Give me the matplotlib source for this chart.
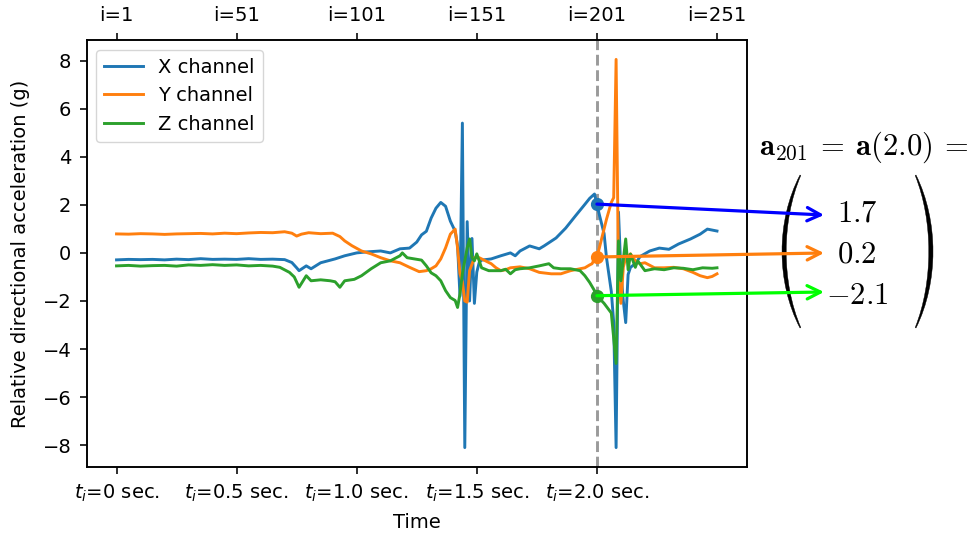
import matplotlib
matplotlib.use("Agg")
import matplotlib.pyplot as plt
from matplotlib.patches import ConnectionPatch, PathPatch
from matplotlib.path import Path

# --- data: time (s) and relative acceleration (g) ---
t_x = [0.00, 0.05, 0.10, 0.15, 0.20, 0.25, 0.30, 0.35, 0.40, 0.45,
       0.50, 0.55, 0.60, 0.65, 0.70, 0.73, 0.75, 0.76, 0.79, 0.81,
       0.85, 0.91, 0.95, 1.00, 1.04, 1.10, 1.14, 1.18, 1.22, 1.25,
       1.27, 1.29, 1.31, 1.33, 1.35, 1.37, 1.39, 1.41, 1.42, 1.43,
       1.44, 1.45, 1.46, 1.47, 1.48, 1.49, 1.50, 1.51, 1.52, 1.56,
       1.60, 1.64, 1.66, 1.68, 1.72, 1.76, 1.78, 1.83, 1.87, 1.91,
       1.95, 1.97, 1.99, 2.00, 2.01, 2.03, 2.04, 2.06, 2.07, 2.08,
       2.09, 2.10, 2.11, 2.12, 2.13, 2.14, 2.16, 2.18, 2.22, 2.26,
       2.30, 2.34, 2.39, 2.43, 2.46, 2.48, 2.50]
acc_x = [-0.29, -0.27, -0.28, -0.27, -0.29, -0.26, -0.28, -0.24, -0.27, -0.26,
         -0.27, -0.24, -0.27, -0.26, -0.28, -0.40, -0.62, -0.74, -0.54, -0.66,
         -0.41, -0.25, -0.12, 0.00, 0.04, 0.08, 0.00, 0.17, 0.20, 0.45,
         0.75, 0.90, 1.45, 1.86, 2.10, 1.94, 1.32, 0.90, 0.30, -1.80,
         5.40, -8.10, 1.30, -2.00, 0.60, -2.10, -0.80, -0.40, -0.30, -0.25,
         -0.12, 0.00, -0.12, 0.08, 0.29, 0.17, 0.29, 0.62, 1.03, 1.53,
         2.02, 2.27, 2.45, 2.03, 1.60, 0.80, -0.20, -1.60, -2.90, -8.10,
         1.70, -0.80, -2.00, -2.90, -0.90, -0.60, -0.45, -0.15, 0.08, 0.20,
         0.15, 0.37, 0.58, 0.78, 0.99, 0.95, 0.91]

t_y = [0.00, 0.05, 0.10, 0.15, 0.20, 0.25, 0.30, 0.35, 0.40, 0.45,
       0.50, 0.55, 0.60, 0.65, 0.70, 0.73, 0.75, 0.77, 0.80, 0.85,
       0.90, 0.93, 0.95, 0.98, 1.02, 1.06, 1.10, 1.14, 1.18, 1.22,
       1.26, 1.29, 1.31, 1.33, 1.35, 1.37, 1.39, 1.41, 1.42, 1.43,
       1.44, 1.45, 1.46, 1.47, 1.49, 1.51, 1.53, 1.56, 1.58, 1.60,
       1.62, 1.64, 1.68, 1.72, 1.76, 1.81, 1.85, 1.89, 1.93, 1.95,
       1.97, 1.98, 1.99, 2.00, 2.01, 2.03, 2.04, 2.06, 2.07, 2.08,
       2.09, 2.10, 2.11, 2.12, 2.14, 2.16, 2.18, 2.20, 2.24, 2.28,
       2.32, 2.36, 2.40, 2.43, 2.46, 2.48, 2.50]
acc_y = [0.79, 0.78, 0.80, 0.79, 0.77, 0.79, 0.80, 0.81, 0.79, 0.82,
         0.80, 0.83, 0.85, 0.84, 0.88, 0.82, 0.70, 0.78, 0.84, 0.80,
         0.82, 0.68, 0.50, 0.30, 0.08, -0.04, -0.20, -0.33, -0.41, -0.60,
         -0.78, -0.74, -0.66, -0.54, -0.25, 0.21, 0.78, 0.99, 0.20, -0.87,
         -1.20, -2.00, -2.05, -0.74, -0.20, -0.20, -0.30, -0.45, -0.62, -0.74,
         -0.70, -0.62, -0.58, -0.66, -0.81, -0.87, -0.87, -0.74, -0.66, -0.62,
         -0.50, -0.45, -0.25, -0.17, 0.20, 1.00, 1.40, 2.10, 2.30, 8.05,
         -1.00, -2.10, -0.60, -0.20, -0.04, -0.33, -0.45, -0.41, -0.62, -0.62,
         -0.60, -0.66, -0.81, -0.95, -1.03, -0.98, -0.87]

t_z = [0.00, 0.05, 0.10, 0.15, 0.20, 0.25, 0.30, 0.35, 0.40, 0.45,
       0.50, 0.55, 0.60, 0.65, 0.68, 0.72, 0.74, 0.76, 0.79, 0.81,
       0.85, 0.89, 0.91, 0.93, 0.95, 0.99, 1.02, 1.06, 1.10, 1.14,
       1.18, 1.19, 1.21, 1.24, 1.27, 1.29, 1.31, 1.33, 1.35, 1.37,
       1.39, 1.41, 1.42, 1.43, 1.44, 1.46, 1.47, 1.48, 1.49, 1.50,
       1.52, 1.55, 1.58, 1.60, 1.62, 1.64, 1.66, 1.68, 1.72, 1.76,
       1.80, 1.82, 1.85, 1.89, 1.93, 1.95, 1.97, 1.99, 2.00, 2.03,
       2.06, 2.08, 2.09, 2.10, 2.12, 2.13, 2.14, 2.16, 2.17, 2.20,
       2.24, 2.28, 2.32, 2.36, 2.40, 2.44, 2.48, 2.50]
acc_z = [-0.54, -0.52, -0.55, -0.53, -0.52, -0.55, -0.50, -0.52, -0.49, -0.52,
         -0.50, -0.54, -0.52, -0.55, -0.60, -0.81, -1.00, -1.43, -0.95, -1.16,
         -1.12, -1.16, -1.20, -1.43, -1.16, -1.10, -0.95, -0.66, -0.41, -0.33,
         -0.12, 0.00, -0.20, -0.25, -0.30, -0.54, -0.83, -0.95, -1.16, -1.57,
         -1.86, -1.98, -2.27, -1.70, -0.87, 0.21, 0.58, -0.20, -0.33, -0.04,
         -0.62, -0.74, -0.74, -0.74, -0.68, -0.87, -0.70, -0.66, -0.62, -0.54,
         -0.45, -0.62, -0.66, -0.66, -0.74, -0.95, -1.23, -1.57, -1.78, -2.10,
         -2.50, -4.60, 0.50, -1.16, 0.58, -0.70, -0.05, -0.60, -0.33, -0.74,
         -0.66, -0.70, -0.62, -0.64, -0.70, -0.62, -0.64, -0.62]

channel_names = ["X channel", "Y channel", "Z channel"]
t_sel = 2.00
vec_labels = ["1.7", "0.2", "-2.1"]
time_ticks = [0.0, 0.5, 1.0, 1.5, 2.0]
time_labels = ["$t_i$=0 sec.", "$t_i$=0.5 sec.", "$t_i$=1.0 sec.",
               "$t_i$=1.5 sec.", "$t_i$=2.0 sec."]
idx_ticks = [0.0, 0.5, 1.0, 1.5, 2.0, 2.5]
idx_labels = ["i=1", "i=51", "i=101", "i=151", "i=201", "i=251"]

W, H = 977, 541
FS = 14
LW = 2.1


def fpos(x, y):
    # pixel position (top-left origin) -> figure fraction
    return x / W, 1 - y / H


fig = plt.figure(figsize=(W / 100, H / 100), dpi=100)
ax = fig.add_axes([86.5 / W, 1 - 467 / H, (747 - 86.5) / W, (467 - 40) / H])

series = [(t_x, acc_x), (t_y, acc_y), (t_z, acc_z)]
colors = ["C0", "C1", "C2"]
for (tt, vv), c, name in zip(series, colors, channel_names):
    ax.plot(tt, vv, color=c, lw=LW, label=name)

ax.axvline(t_sel, color="#9a9a9a", ls="--", lw=LW, zorder=1)

sel_vals = [vv[tt.index(t_sel)] for tt, vv in series]
for v, c in zip(sel_vals, colors):
    ax.plot(t_sel, v, "o", color=c, ms=8.5)

ax.set_xticks(time_ticks)
ax.set_xticklabels(time_labels)
ax.set_xlabel("Time", fontsize=FS, labelpad=7)
ax.set_ylabel("Relative directional acceleration (g)", fontsize=FS, labelpad=9)
ax.tick_params(labelsize=FS, length=5, width=1.15, pad=6)
for s in ax.spines.values():
    s.set_linewidth(1.15)
ax.legend(loc="upper left", fontsize=FS)

top = ax.twiny()
top.set_xlim(ax.get_xlim())
top.set_xticks(idx_ticks)
top.set_xticklabels(idx_labels)
top.tick_params(labelsize=FS, length=5, width=1.15, pad=6)
for s in top.spines.values():
    s.set_linewidth(1.15)

# vector annotation on the right, in LaTeX-like font
fig.text(*fpos(759, 155), r"$\mathbf{a}_{201}\:=\:\mathbf{a}(2.0)\:=$",
         fontsize=22, math_fontfamily="cm", va="baseline")
row_base = [221, 263, 304]
for lab, yb in zip(vec_labels, row_base):
    fig.text(*fpos(857, yb), "$" + lab + "$", fontsize=22,
             math_fontfamily="cm", ha="center", va="baseline")


def paren(x_end, x_mid, ytop, ybot, thick):
    # thin crescent like a tall TeX parenthesis
    d = ybot - ytop
    sgn = 1 if x_mid < x_end else -1
    c_out = (x_mid - 0.25 * x_end) / 0.75
    c_in = (x_mid + sgn * thick - 0.25 * x_end) / 0.75
    pts = [(x_end, ytop), (c_out, ytop + 0.3 * d), (c_out, ybot - 0.3 * d),
           (x_end, ybot), (x_end + sgn * 0.8, ybot - 0.5),
           (c_in, ybot - 0.3 * d), (c_in, ytop + 0.3 * d),
           (x_end + sgn * 0.8, ytop + 0.5), (x_end, ytop)]
    codes = [Path.MOVETO, Path.CURVE4, Path.CURVE4, Path.CURVE4, Path.LINETO,
             Path.CURVE4, Path.CURVE4, Path.CURVE4, Path.CLOSEPOLY]
    path = Path([fpos(x, y) for x, y in pts], codes)
    fig.add_artist(PathPatch(path, transform=fig.transFigure,
                             facecolor="black", edgecolor="black", lw=0.3))


paren(800, 782, 175, 328, 4.0)
paren(916, 933, 175, 328, 4.0)

arrow_colors = ["#0000ff", "#ff7f0e", "#00ff00"]
arrow_tips = [(824, 215), (824, 253), (824, 292)]
for v, c, (xe, ye) in zip(sel_vals, arrow_colors, arrow_tips):
    con = ConnectionPatch(xyA=(t_sel, v), coordsA=ax.transData,
                          xyB=fpos(xe, ye), coordsB=fig.transFigure,
                          arrowstyle="->", color=c, lw=2.3, mutation_scale=24,
                          shrinkA=0, shrinkB=0)
    fig.add_artist(con)

fig.savefig("out.png", dpi=100)
